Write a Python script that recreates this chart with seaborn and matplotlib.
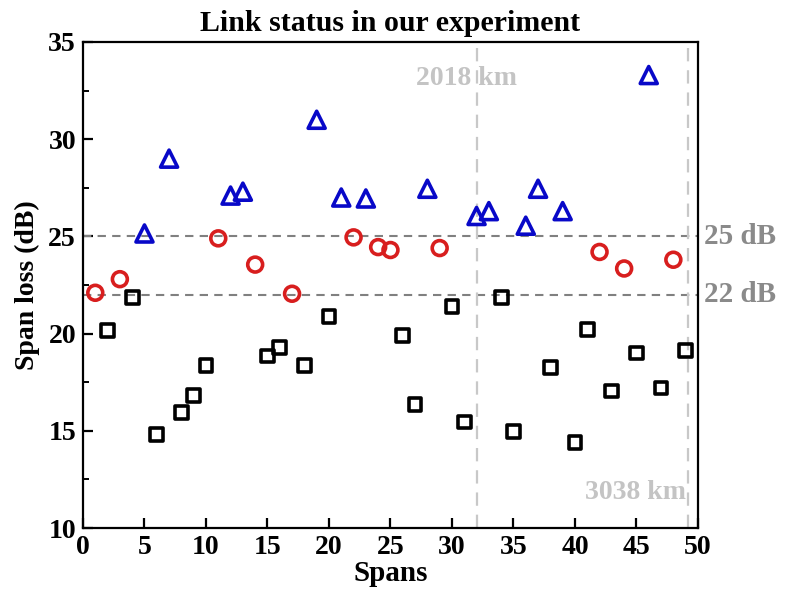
import numpy as np
import pandas as pd
import seaborn as sns
import matplotlib.pyplot as plt
from matplotlib.ticker import MultipleLocator

# span index and loss (dB), split by loss class
sq_span = [2, 4, 6, 8, 9, 10, 15, 16, 18, 20, 26, 27, 30, 31, 34, 35, 38, 40, 41, 43, 45, 47, 49]
sq_loss = [20.15, 21.85, 14.8, 15.95, 16.8, 18.35, 18.85, 19.3, 18.35, 20.9, 19.9, 16.35,
           21.4, 15.45, 21.85, 14.95, 18.25, 14.4, 20.2, 17.05, 19.0, 17.2, 19.15]

ci_span = [1, 3, 11, 14, 17, 22, 24, 25, 29, 42, 44, 48]
ci_loss = [22.1, 22.8, 24.9, 23.55, 22.05, 24.95, 24.45, 24.3, 24.4, 24.2, 23.35, 23.8]

tr_span = [5, 7, 12, 13, 19, 21, 23, 28, 32, 33, 36, 37, 39, 46]
tr_loss = [25.15, 29.0, 27.1, 27.3, 31.0, 27.0, 26.95, 27.45, 26.05, 26.3, 25.55, 27.45, 26.3, 33.3]

thresholds = [25, 22]
km_marks = [32, 49.2]
km_labels = ["2018 km", "3038 km"]

sns.set_theme(style="white")
plt.rcParams["font.family"] = ["Liberation Serif", "DejaVu Serif"]
plt.rcParams["font.weight"] = "bold"
for key in ["text.color", "axes.labelcolor", "xtick.color", "ytick.color"]:
    plt.rcParams[key] = "black"

fig = plt.figure(figsize=(7.85, 5.94), dpi=100)
ax = fig.add_axes([0.1057, 0.1111, 0.7834, 0.8182])

for xs, ys, mk, col, sz in [(sq_span, sq_loss, "s", "black", 85),
                            (ci_span, ci_loss, "o", "#d81e1e", 115),
                            (tr_span, tr_loss, "^", "#0808c8", 150)]:
    df = pd.DataFrame({"span": xs, "loss": ys})
    sns.scatterplot(data=df, x="span", y="loss", marker=mk, s=sz,
                    facecolor="none", edgecolor=col, linewidth=2.6, ax=ax, zorder=3)

for t in thresholds:
    ax.axhline(t, color="#808080", ls=(0, (4, 3)), lw=1.5, zorder=1)
for xm in km_marks:
    ax.axvline(xm, color="#c8c8c8", ls=(0, (6, 4)), lw=1.6, zorder=1)

ax.text(31.2, 33.1, km_labels[0], ha="center", va="center", fontsize=20,
        color="#c4c4c4", fontweight="bold")
ax.text(44.9, 11.85, km_labels[1], ha="center", va="center", fontsize=20,
        color="#c4c4c4", fontweight="bold")
ax.text(50.5, 25, "25 dB", ha="left", va="center", fontsize=21,
        color="#8a8a8a", fontweight="bold", clip_on=False)
ax.text(50.5, 22, "22 dB", ha="left", va="center", fontsize=21,
        color="#8a8a8a", fontweight="bold", clip_on=False)

ax.set_xlim(0, 50)
ax.set_ylim(10, 35)
ax.xaxis.set_major_locator(MultipleLocator(5))
ax.yaxis.set_major_locator(MultipleLocator(5))
ax.yaxis.set_minor_locator(MultipleLocator(2.5))
ax.tick_params(axis="both", which="major", direction="in", length=7, width=1.6,
               labelsize=20, pad=5, bottom=True, left=True, colors="black")
ax.tick_params(axis="y", which="minor", direction="in", length=4, width=1.4, left=True,
               colors="black")
for lab in ax.get_xticklabels() + ax.get_yticklabels():
    lab.set_fontweight("bold")
for sp in ax.spines.values():
    sp.set_color("black")
    sp.set_linewidth(1.6)

ax.set_xlabel("Spans", fontsize=21, fontweight="bold", labelpad=0)
ax.set_ylabel("Span loss (dB)", fontsize=20, fontweight="bold", labelpad=6)
ax.set_title("Link status in our experiment", fontsize=21.5, fontweight="bold", pad=8,
             color="black")

fig.savefig("out.png", dpi=100)
